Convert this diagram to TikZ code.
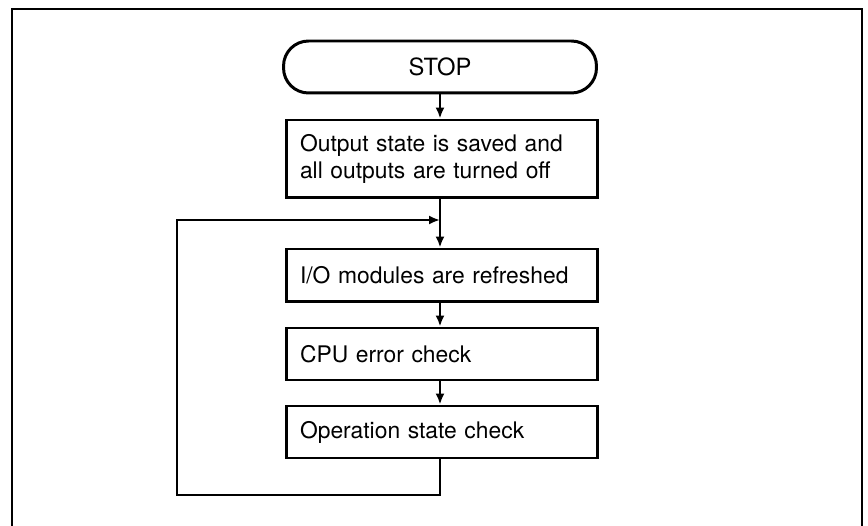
\documentclass[tikz,border=0pt]{standalone}
\usepackage{fontspec}
\setmainfont{TeX Gyre Heros}
\usepackage{tikz}
\usetikzlibrary{arrows.meta,positioning}

\newcommand{\stepfont}{\fontsize{13}{15}\selectfont\spaceskip 0.44em\relax}

\tikzset{
  stepbox/.style={rectangle, draw, line width=1.7pt, text width=5.68cm,
                  inner xsep=0.28cm, inner ysep=0pt, align=left,
                  font=\stepfont},
  flow/.style={line width=1.2pt, -{Latex[length=2.2mm,width=1.8mm]}},
  loopline/.style={line width=1.2pt}
}

\begin{document}
\begin{tikzpicture}[x=0.02cm, y=-0.02cm]
  \useasboundingbox (0,0) rectangle (868,526);
  \draw[line width=1.5pt] (12,526) -- (12,9) -- (862,9) -- (862,526);

  \node[rectangle, draw, line width=1.7pt, rounded corners=0.5cm,
        minimum width=6.26cm, minimum height=1.04cm,
        font=\fontsize{13.5}{15}\selectfont] (stop) at (440,67) {STOP};
  \node[stepbox, minimum height=1.56cm] (save) at (442,159)
        {Output state is saved and\\all outputs are turned off};
  \node[stepbox, minimum height=1.06cm] (refresh) at (442,275.5) {I/O modules are refreshed};
  \node[stepbox, minimum height=1.04cm] (cpu) at (442,354) {CPU error check};
  \node[stepbox, minimum height=1.04cm] (opcheck) at (442,432) {Operation state check};

  \coordinate (join) at (440,220);
  \coordinate (loopsw) at (177,495);

  \draw[flow] (stop.south -| join) -- (save.north -| join);
  \draw[loopline] (save.south -| join) -- (join);
  \draw[flow] (join) -- (refresh.north -| join);
  \draw[flow] (refresh.south -| join) -- (cpu.north -| join);
  \draw[flow] (cpu.south -| join) -- (opcheck.north -| join);
  \draw[flow] (opcheck.south -| join) |- (loopsw) |- (join);
\end{tikzpicture}
\end{document}
